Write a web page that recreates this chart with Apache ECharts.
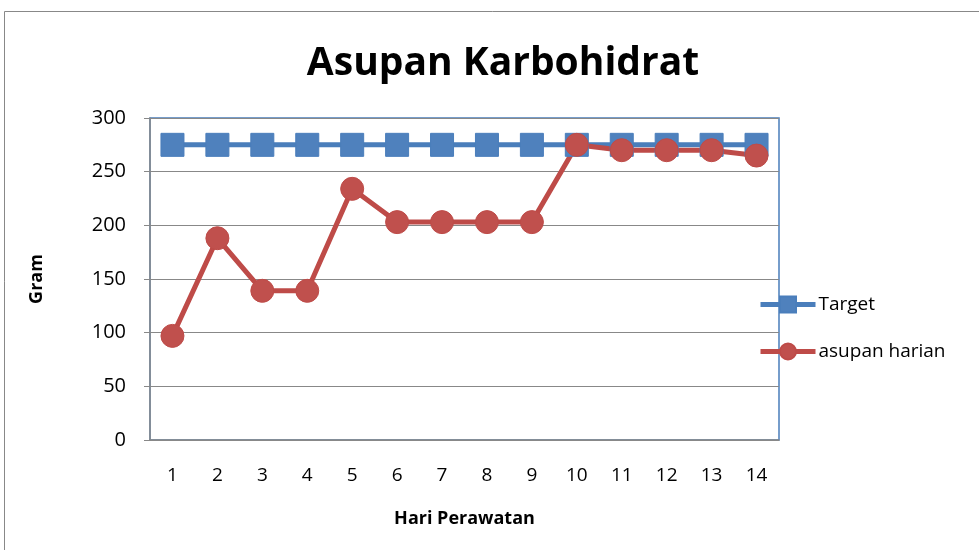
<!DOCTYPE html>
<html><head><meta charset="utf-8">
<script src="https://cdn.jsdelivr.net/npm/echarts@6/dist/echarts.min.js"></script>
<style>html,body{margin:0;padding:0;background:#fff}#c{width:979px;height:550px}</style>
</head><body><div id="c"></div>
<script>
const categories = ['1','2','3','4','5','6','7','8','9','10','11','12','13','14'];
const targetValues = [275,275,275,275,275,275,275,275,275,275,275,275,275,275];
const asupanValues = [97,188,139,139,234,203,203,203,203,275,270,270,270,265];
const yTicks = { min: 0, max: 300, interval: 50 };

const chart = echarts.init(document.getElementById('c'));
const F = 'Open Sans, Noto Sans, sans-serif';
chart.setOption({
  animation: false,
  backgroundColor: '#fff',
  graphic: [{type:'rect', shape:{x:4.5,y:11.5,width:1000,height:600}, style:{fill:'none', stroke:'#888', lineWidth:1}, z:-1}],
  title: { text: 'Asupan Karbohidrat', left: 498, top: 39, textAlign: 'center',
    textStyle: { fontFamily: F, fontWeight: 'bold', fontSize: 39, color: '#000' } },
  legend: {
    orient: 'vertical', left: 753, top: 290, itemGap: 28, itemWidth: 55, itemHeight: 20,
    lineStyle: { width: 5 },
    textStyle: { fontFamily: F, fontSize: 19, color: '#000', padding: [0,0,0,-2] },
    data: ['Target', 'asupan harian']
  },
  grid: { left: 150, right: 200, top: 118, bottom: 110, show: true, borderColor: '#4a7ebb', borderWidth: 1.5 },
  xAxis: {
    type: 'category', data: categories, boundaryGap: true,
    name: 'Hari Perawatan', nameLocation: 'middle', nameGap: 70,
    nameTextStyle: { fontFamily: F, fontWeight: 'bold', fontSize: 18, color: '#000' },
    axisLine: { lineStyle: { color: '#888', width: 1.5 } },
    axisTick: { show: false },
    axisLabel: { fontFamily: F, fontSize: 19, color: '#000', margin: 26 }
  },
  yAxis: {
    type: 'value', min: yTicks.min, max: yTicks.max, interval: yTicks.interval,
    name: 'Gram', nameLocation: 'middle', nameGap: 104, nameRotate: 90,
    nameTextStyle: { fontFamily: F, fontWeight: 'bold', fontSize: 18, color: '#000' },
    axisLine: { show: true, lineStyle: { color: '#888', width: 1.5 } },
    axisTick: { show: true, length: 6, lineStyle: { color: '#888' } },
    splitLine: { lineStyle: { color: '#888', width: 1.2 } },
    axisLabel: { fontFamily: F, fontSize: 20, color: '#000', margin: 24 }
  },
  series: [
    { name: 'Target', type: 'line', data: targetValues, symbol: 'rect', symbolSize: 23,
      lineStyle: { color: '#4a7ebb', width: 5 }, itemStyle: { color: '#4f81bd', borderColor:'#4a7ebb', borderWidth:1 } },
    { name: 'asupan harian', type: 'line', data: asupanValues, symbol: 'circle', symbolSize: 23,
      lineStyle: { color: '#be4b48', width: 5 }, itemStyle: { color: '#c0504d', borderColor:'#be4b48', borderWidth:1 } }
  ]
});
</script></body></html>
